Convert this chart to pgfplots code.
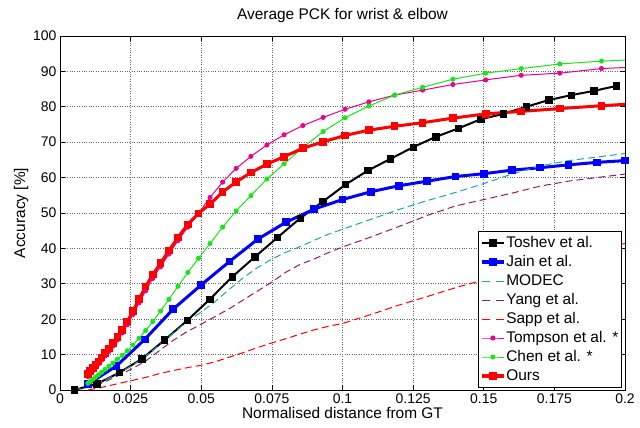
\documentclass[border=0pt]{standalone}
\usepackage{pgfplots}
\pgfplotsset{compat=1.18}
\usepackage{fontspec}
\setmainfont{Liberation Sans}
\definecolor{modec}{rgb}{0.1,0.65,0.65}
\definecolor{yang}{rgb}{0.6,0.1,0.4}
\definecolor{chen}{rgb}{0.1,0.9,0.1}

\pgfplotstableread{
x y
0.005 0
0.013 1.7
0.021 4.9
0.029 8.8
0.037 14.1
0.045 19.6
0.053 25.6
0.061 32.0
0.069 37.6
0.077 43.1
0.085 48.5
0.093 53.2
0.101 58.0
0.109 62.0
0.117 65.3
0.125 68.6
0.133 71.5
0.141 73.9
0.149 76.5
0.157 78.0
0.165 80.0
0.173 81.9
0.181 83.3
0.189 84.5
0.197 85.9
}\toshev

\pgfplotstableread{
x y
0.01 1.7
0.02 6.8
0.03 14.3
0.04 22.8
0.05 29.7
0.06 36.3
0.07 42.6
0.08 47.4
0.09 51.1
0.10 53.8
0.11 56.0
0.12 57.7
0.13 59.0
0.14 60.3
0.15 61.1
0.16 62.1
0.17 62.8
0.18 63.6
0.19 64.3
0.20 64.8
}\jain

\pgfplotstableread{
x y
0.005 0
0.010 1.0
0.015 2.5
0.020 4.5
0.025 6.6
0.030 9.3
0.035 12.6
0.040 16.0
0.045 19.3
0.050 22.0
0.055 25.0
0.060 28.5
0.065 31.8
0.070 34.6
0.075 37.0
0.080 38.9
0.085 40.5
0.090 42.3
0.095 44.0
0.100 45.4
0.110 48.2
0.120 51.0
0.130 53.5
0.140 55.8
0.150 58.3
0.160 61.0
0.170 63.3
0.180 64.8
0.190 65.8
0.200 66.8
}\modec

\pgfplotstableread{
x y
0.005 0
0.010 0.8
0.015 2.0
0.020 3.8
0.025 5.8
0.030 8.0
0.035 11.0
0.040 14.0
0.045 16.5
0.050 18.6
0.055 20.8
0.060 23.0
0.065 25.5
0.070 28.0
0.075 30.5
0.080 33.3
0.085 35.5
0.090 37.0
0.095 38.8
0.100 40.4
0.110 43.2
0.120 46.2
0.130 49.3
0.140 52.0
0.150 53.8
0.160 55.6
0.170 57.6
0.180 59.0
0.190 60.0
0.200 61.0
}\yang

\pgfplotstableread{
x y
0.010 0
0.015 0.8
0.020 1.7
0.025 2.6
0.030 3.5
0.035 4.6
0.040 5.5
0.045 6.3
0.050 7.0
0.055 8.0
0.060 9.3
0.065 10.6
0.070 12.0
0.075 13.3
0.080 14.5
0.085 15.8
0.090 17.0
0.095 18.0
0.100 18.8
0.110 21.3
0.120 24.0
0.130 26.4
0.140 28.9
0.150 31.1
0.160 33.5
0.170 35.8
0.180 37.8
0.190 39.7
0.200 41.4
}\sapp

\pgfplotstableread{
x ours tompson chen
0.00986 4.5 3.8 1.9
0.01068 5.3 4.5 2.4
0.01158 6.2 5.4 3.0
0.01254 7.1 6.3 3.6
0.01359 8.1 7.3 4.3
0.01472 9.2 8.4 5.0
0.01595 10.4 9.6 5.8
0.01729 11.7 10.9 6.7
0.01873 13.2 12.4 7.6
0.02029 14.9 14.1 8.7
0.02199 17.0 16.1 9.8
0.02382 19.3 18.4 11.1
0.02581 22.3 21.3 12.7
0.02797 25.7 24.6 14.6
0.03030 29.2 28.0 16.8
0.03283 32.6 31.5 19.3
0.03558 35.8 34.8 22.3
0.03855 39.4 38.4 25.6
0.04176 43.1 42.2 29.3
0.04525 46.8 46.0 33.2
0.04903 49.9 49.9 37.2
0.05312 52.5 54.4 41.4
0.05756 55.9 58.7 46.0
0.06237 58.8 62.6 50.6
0.06757 61.4 66.0 54.9
0.07322 63.8 69.2 59.6
0.07933 65.9 72.1 63.9
0.08596 68.3 74.7 68.5
0.09313 70.1 77.0 73.0
0.10091 71.9 79.3 76.9
0.10934 73.4 81.4 80.2
0.11846 74.5 83.3 83.3
0.12836 75.5 84.7 85.5
0.13907 76.8 86.3 87.8
0.15069 78.0 87.6 89.5
0.16327 78.7 88.9 90.8
0.17690 79.5 89.5 92.1
0.19167 80.3 90.8 92.9
}\curves

\begin{document}
\begin{tikzpicture}
\path[use as bounding box] (0,0) rectangle (640bp,428bp);
\begin{axis}[
  at={(60bp,38bp)}, anchor=south west,
  scale only axis, width=565bp, height=354bp,
  xmin=0, xmax=0.2, ymin=0, ymax=100,
  xtick={0,0.025,0.05,0.075,0.1,0.125,0.15,0.175,0.2},
  xticklabels={0,0.025,0.05,0.075,0.1,0.125,0.15,0.175,0.2},
  ytick={0,10,20,30,40,50,60,70,80,90,100},
  grid=major,
  major grid style={dotted, gray!80!black, line width=0.6bp},
  tick align=inside, major tick length=5bp,
  axis line style={line width=0.9bp},
  every tick/.style={black, line width=0.6bp},
  /pgf/number format/assume math mode=true,
  tick label style={font=\fontsize{14}{16}\selectfont},
  label style={font=\fontsize{15.5}{18}\selectfont},
  title style={font=\fontsize{15.5}{18}\selectfont, at={(0.5,1)}, anchor=base, yshift=11bp},
  title={Average PCK for wrist \& elbow},
  xlabel={Normalised distance from GT},
  ylabel={Accuracy [\%]},
  xlabel style={yshift=3bp},
  ylabel style={yshift=-2bp},
  legend cell align=left,
  legend style={at={(1,0)}, anchor=south east, xshift=-3bp, yshift=2bp,
    draw=black, line width=1bp, fill=white,
    font=\fontsize{15.5}{18}\selectfont,
    inner xsep=2bp, inner ysep=2bp, row sep=0pt,
    nodes={inner sep=1bp, text height=12.5bp, text depth=4.5bp}},
  legend image code/.code={\draw[mark repeat=2,mark phase=2] plot coordinates {(0bp,0bp)(11bp,0bp)(22bp,0bp)};},
  dashleg/.style={legend image code/.code={\draw[dash pattern=on 8bp off 6bp] (0bp,0bp) -- (22bp,0bp);}},
]
\addplot[black, line width=2bp, mark=square*, mark size=3.2bp, mark options={line width=0.8bp}] table[x=x,y=y] {\toshev};
\addlegendentry{Toshev et al.}
\addplot[blue, line width=3bp, mark=square*, mark size=3.3bp, mark options={line width=1bp}] table[x=x,y=y] {\jain};
\addlegendentry{Jain et al.}
\addplot[modec, line width=1bp, dash pattern=on 7bp off 4bp, dashleg] table[x=x,y=y] {\modec};
\addlegendentry{MODEC}
\addplot[yang, line width=1bp, dash pattern=on 7bp off 4bp, dashleg] table[x=x,y=y] {\yang};
\addlegendentry{Yang et al.}
\addplot[red, line width=1bp, dash pattern=on 7bp off 4bp, dashleg] table[x=x,y=y] {\sapp};
\addlegendentry{Sapp et al.}
\addplot[magenta, line width=1bp, mark=*, mark size=2bp] table[x=x,y=tompson] {\curves};
\addlegendentry{Tompson et al. *}
\addplot[magenta, line width=1bp, forget plot] coordinates {(0.19167,90.8)(0.2,91.1)};
\addplot[chen, line width=1bp, mark=*, mark size=2bp] table[x=x,y=chen] {\curves};
\addlegendentry{Chen et al. *}
\addplot[chen, line width=1bp, forget plot] coordinates {(0.19167,92.9)(0.2,93.2)};
\addplot[red, line width=3bp, mark=square*, mark size=3.3bp, mark options={line width=1bp}] table[x=x,y=ours] {\curves};
\addlegendentry{Ours}
\addplot[red, line width=3bp, forget plot] coordinates {(0.19167,80.3)(0.2,80.7)};
\end{axis}
\end{tikzpicture}
\end{document}
